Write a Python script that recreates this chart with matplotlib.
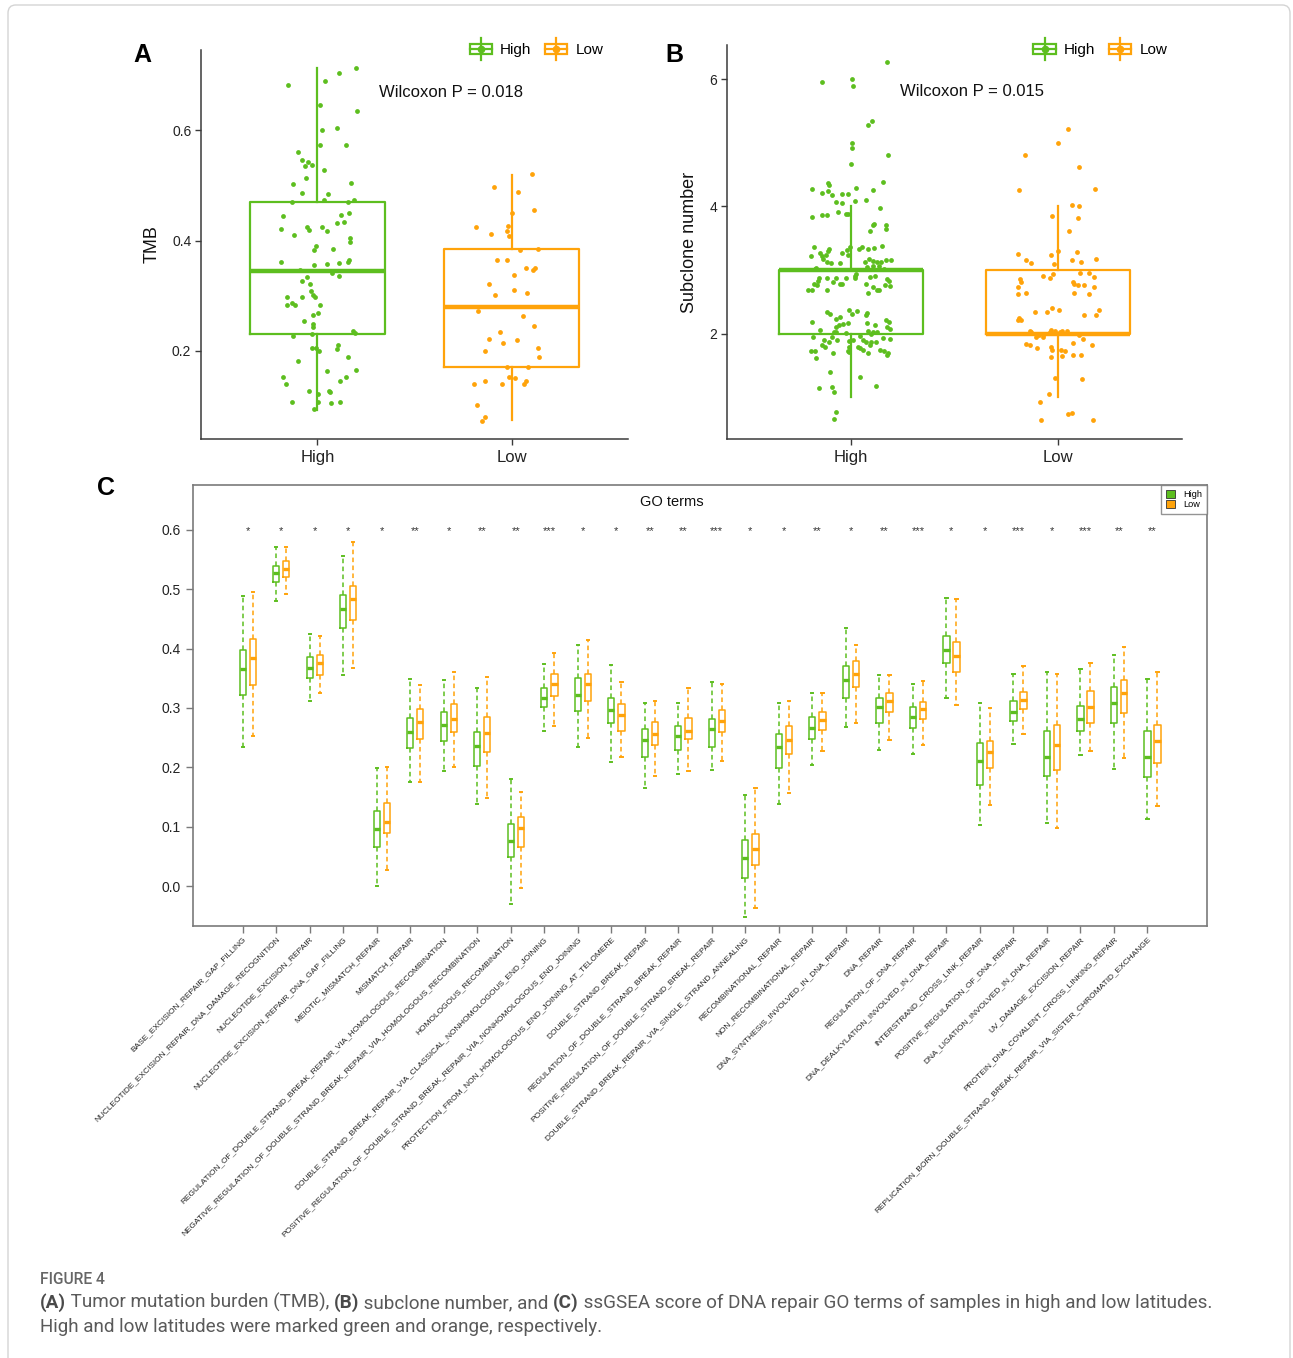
import matplotlib
matplotlib.use('Agg')
import matplotlib.pyplot as plt
from matplotlib.patches import Rectangle, Patch, FancyBboxPatch
from matplotlib.lines import Line2D
from matplotlib.legend_handler import HandlerBase

plt.rcParams['font.family'] = ['Liberation Sans', 'DejaVu Sans']

W, H = 1293, 1358
GREEN = '#5DBE1F'
ORANGE = '#FFA30A'
AXC = '#3a3a3a'

groups = ['High', 'Low']

# ---------------- Panel A: TMB ----------------
tmb_high_stats = [0.093, 0.230, 0.345, 0.470, 0.714]   # whislo, q1, med, q3, whishi
tmb_low_stats = [0.075, 0.170, 0.280, 0.385, 0.520]
tmb_p = 'Wilcoxon P = 0.018'

tmb_high_dx = [-0.154, 0.040, 0.112, 0.199, 0.014, 0.203, 0.022, 0.099, 0.014, 0.145,
               -0.098, -0.078, -0.051, -0.029, -0.063, 0.036, -0.060, -0.125, 0.175, -0.081,
               0.056, -0.132, 0.033, 0.156, 0.190, -0.177, 0.123, 0.161, -0.186, -0.052,
               -0.043, 0.024, 0.047, 0.099, 0.139, -0.121, -0.005, -0.018, 0.080, 0.168,
               0.166, -0.188, -0.020, 0.051, 0.112, 0.163, 0.156, -0.089, 0.074, 0.112,
               -0.056, -0.080, -0.036, -0.031, -0.022, -0.013, -0.159, -0.080, -0.159, -0.132,
               -0.118, 0.013, 0.005, -0.024, -0.067, -0.022, -0.022, 0.181, 0.195, -0.127,
               -0.029, -0.027, -0.005, 0.007, 0.108, 0.101, 0.157, -0.098, 0.051, 0.197,
               -0.179, -0.163, 0.114, 0.148, -0.042, 0.058, 0.063, 0.005, -0.130, 0.004,
               0.072, 0.118, -0.020]
tmb_high_y = [0.683, 0.690, 0.705, 0.714, 0.647, 0.636, 0.600, 0.604, 0.574, 0.574,
              0.561, 0.547, 0.543, 0.538, 0.535, 0.529, 0.513, 0.503, 0.504, 0.486,
              0.485, 0.471, 0.474, 0.471, 0.474, 0.444, 0.447, 0.450, 0.421, 0.425,
              0.419, 0.425, 0.418, 0.432, 0.433, 0.411, 0.391, 0.383, 0.384, 0.405,
              0.398, 0.362, 0.355, 0.358, 0.359, 0.365, 0.361, 0.347, 0.342, 0.335,
              0.334, 0.327, 0.322, 0.308, 0.302, 0.297, 0.297, 0.297, 0.284, 0.287,
              0.283, 0.284, 0.269, 0.265, 0.254, 0.249, 0.244, 0.236, 0.232, 0.227,
              0.230, 0.205, 0.205, 0.199, 0.211, 0.204, 0.188, 0.182, 0.163, 0.165,
              0.152, 0.139, 0.146, 0.152, 0.127, 0.128, 0.126, 0.121, 0.108, 0.107,
              0.106, 0.107, 0.094]
tmb_low_dx = [0.107, -0.092, 0.031, 0.004, 0.114, -0.181, -0.105, -0.018, -0.025, -0.013,
              0.043, 0.137, -0.074, -0.024, 0.074, 0.121, 0.108, 0.013, -0.116, -0.083,
              0.013, 0.078, -0.175, 0.058, 0.118, -0.058, -0.114, -0.043, 0.027, -0.139,
              0.136, 0.143, -0.022, 0.083, -0.011, 0.020, -0.195, -0.139, -0.047, 0.065,
              0.072, -0.179, -0.136, -0.150]
tmb_low_y = [0.521, 0.497, 0.488, 0.450, 0.456, 0.425, 0.412, 0.427, 0.418, 0.409,
             0.383, 0.384, 0.365, 0.365, 0.351, 0.350, 0.346, 0.338, 0.322, 0.301,
             0.310, 0.305, 0.273, 0.264, 0.245, 0.235, 0.221, 0.214, 0.220, 0.199,
             0.205, 0.188, 0.170, 0.170, 0.152, 0.151, 0.139, 0.145, 0.140, 0.139,
             0.145, 0.101, 0.080, 0.072]

# ---------------- Panel B: Subclone number ----------------
sub_high_stats = [1.0, 2.0, 3.0, 3.0, 4.0]
sub_low_stats = [1.0, 2.0, 2.0, 3.0, 4.0]
sub_p = 'Wilcoxon P = 0.015'

sub_high_dx = [-0.141, 0.002, 0.008, 0.173, 0.080, 0.103, 0.002, 0.002, 0.000, 0.178,
               0.156, -0.191, -0.113, -0.108, -0.141, -0.113, 0.022, 0.108, -0.042, -0.013,
               -0.091, -0.073, -0.043, 0.017, 0.070, -0.191, -0.141, -0.116, -0.061, -0.025,
               -0.013, 0.140, 0.108, 0.113, 0.169, 0.169, 0.090, -0.179, -0.196, -0.148,
               -0.136, -0.123, -0.111, -0.106, -0.143, -0.171, -0.116, -0.096, -0.055, -0.042,
               -0.022, -0.003, -0.013, 0.037, 0.053, 0.083, 0.113, 0.150, 0.088, 0.105,
               0.125, 0.145, 0.169, 0.191, 0.108, 0.136, 0.158, -0.154, -0.161, -0.166,
               -0.206, -0.189, -0.179, -0.118, -0.073, -0.042, -0.025, 0.017, 0.018, 0.025,
               0.070, 0.080, 0.091, 0.118, 0.106, 0.123, 0.135, 0.163, 0.186, 0.174,
               0.183, -0.118, -0.086, -0.055, -0.174, 0.066, 0.075, -0.116, -0.103, -0.189,
               -0.073, -0.053, -0.038, -0.058, -0.075, -0.015, 0.003, -0.008, 0.028, 0.070,
               0.076, 0.075, 0.118, 0.171, 0.183, 0.186, 0.176, -0.151, -0.083, -0.071,
               -0.025, 0.083, 0.095, 0.108, 0.125, -0.183, -0.133, -0.108, -0.091, -0.066,
               -0.012, 0.008, 0.042, 0.058, 0.071, 0.095, 0.121, 0.153, 0.189, -0.194,
               -0.173, -0.143, -0.126, -0.088, -0.013, -0.008, 0.035, 0.043, 0.058, 0.081,
               0.141, 0.159, 0.173, 0.178, -0.168, -0.008, 0.091, -0.101, 0.042, 0.121,
               -0.153, -0.091, -0.083, -0.073, -0.085]
sub_high_y = [5.95, 6.00, 5.89, 6.27, 5.28, 5.34, 5.00, 4.92, 4.66, 4.81,
              4.39, 4.28, 4.36, 4.33, 4.21, 4.24, 4.29, 4.26, 4.19, 4.19,
              4.18, 4.07, 4.05, 4.09, 4.10, 3.84, 3.86, 3.86, 3.91, 3.88,
              3.88, 3.98, 3.71, 3.73, 3.71, 3.65, 3.62, 3.36, 3.22, 3.27,
              3.17, 3.23, 3.30, 3.33, 3.22, 3.03, 3.12, 3.11, 3.11, 3.26,
              3.31, 3.36, 3.23, 3.33, 3.36, 3.33, 3.35, 3.37, 3.17, 3.14,
              3.12, 3.12, 3.16, 3.16, 3.07, 3.07, 3.02, 2.87, 2.83, 2.77,
              2.68, 2.69, 2.78, 2.88, 2.88, 2.78, 2.87, 2.91, 2.87, 2.93,
              2.78, 2.64, 2.89, 2.90, 2.73, 2.69, 2.69, 2.76, 2.75, 2.86,
              2.83, 2.68, 2.81, 2.78, 3.02, 3.12, 3.04, 2.34, 2.31, 2.18,
              2.23, 2.26, 2.16, 2.14, 2.10, 2.17, 2.31, 2.37, 2.35, 2.30,
              2.32, 2.17, 2.14, 2.21, 2.18, 2.08, 2.10, 2.06, 2.03, 2.02,
              2.01, 2.04, 2.00, 2.03, 2.03, 1.95, 1.90, 1.87, 1.95, 1.90,
              1.89, 1.90, 1.97, 1.90, 1.87, 1.87, 1.87, 1.93, 1.92, 1.73,
              1.73, 1.83, 1.79, 1.69, 1.73, 1.79, 1.79, 1.77, 1.74, 1.70,
              1.74, 1.73, 1.66, 1.69, 1.62, 1.71, 1.82, 1.40, 1.32, 1.18,
              1.14, 1.17, 1.09, 0.77, 0.66]
sub_low_dx = [0.050, 0.000, -0.159, 0.103, -0.188, 0.179, 0.066, 0.100, -0.028, 0.096,
              0.055, -0.193, -0.156, -0.131, -0.033, 0.000, 0.093, 0.066, 0.111, 0.186,
              -0.020, -0.183, -0.178, -0.194, -0.156, -0.191, -0.071, -0.037, -0.023, 0.075,
              0.080, 0.098, 0.125, 0.176, 0.176, 0.080, 0.151, 0.150, 0.105, -0.188,
              -0.178, -0.191, -0.111, -0.051, -0.028, 0.005, 0.128, 0.184, 0.199, -0.133,
              -0.128, -0.090, -0.065, -0.033, -0.012, 0.008, 0.022, 0.045, -0.095, -0.108,
              -0.073, -0.040, 0.101, -0.153, -0.136, -0.100, -0.033, -0.028, 0.015, 0.033,
              0.075, 0.121, 0.166, -0.032, 0.022, 0.071, 0.113, -0.012, 0.116, -0.043,
              -0.088, 0.048, 0.070, -0.081, 0.168]
sub_low_y = [5.22, 5.00, 4.81, 4.62, 4.25, 4.28, 4.02, 4.00, 3.85, 3.81,
             3.61, 3.25, 3.16, 3.11, 3.23, 3.30, 3.29, 3.15, 3.13, 3.17,
             3.10, 2.86, 2.82, 2.74, 2.64, 2.62, 2.90, 2.88, 2.93, 2.81,
             2.78, 2.76, 2.76, 2.89, 2.73, 2.64, 2.62, 2.96, 2.96, 2.25,
             2.22, 2.22, 2.34, 2.34, 2.40, 2.37, 2.30, 2.30, 2.38, 2.05,
             2.03, 1.98, 2.00, 2.06, 2.05, 2.02, 2.05, 2.04, 2.00, 1.95,
             1.95, 2.02, 1.98, 1.84, 1.82, 1.77, 1.79, 1.74, 1.74, 1.73,
             1.86, 1.91, 1.83, 1.64, 1.65, 1.66, 1.67, 1.31, 1.29, 1.05,
             0.93, 0.74, 0.76, 0.65, 0.65]

# ---------------- Panel C: ssGSEA GO terms ----------------
go_terms = [
    'BASE_EXCISION_REPAIR_GAP_FILLING',
    'NUCLEOTIDE_EXCISION_REPAIR_DNA_DAMAGE_RECOGNITION',
    'NUCLEOTIDE_EXCISION_REPAIR',
    'NUCLEOTIDE_EXCISION_REPAIR_DNA_GAP_FILLING',
    'MEIOTIC_MISMATCH_REPAIR',
    'MISMATCH_REPAIR',
    'REGULATION_OF_DOUBLE_STRAND_BREAK_REPAIR_VIA_HOMOLOGOUS_RECOMBINATION',
    'NEGATIVE_REGULATION_OF_DOUBLE_STRAND_BREAK_REPAIR_VIA_HOMOLOGOUS_RECOMBINATION',
    'HOMOLOGOUS_RECOMBINATION',
    'DOUBLE_STRAND_BREAK_REPAIR_VIA_CLASSICAL_NONHOMOLOGOUS_END_JOINING',
    'POSITIVE_REGULATION_OF_DOUBLE_STRAND_BREAK_REPAIR_VIA_NONHOMOLOGOUS_END_JOINING',
    'PROTECTION_FROM_NON_HOMOLOGOUS_END_JOINING_AT_TELOMERE',
    'DOUBLE_STRAND_BREAK_REPAIR',
    'REGULATION_OF_DOUBLE_STRAND_BREAK_REPAIR',
    'POSITIVE_REGULATION_OF_DOUBLE_STRAND_BREAK_REPAIR',
    'DOUBLE_STRAND_BREAK_REPAIR_VIA_SINGLE_STRAND_ANNEALING',
    'RECOMBINATIONAL_REPAIR',
    'NON_RECOMBINATIONAL_REPAIR',
    'DNA_SYNTHESIS_INVOLVED_IN_DNA_REPAIR',
    'DNA_REPAIR',
    'REGULATION_OF_DNA_REPAIR',
    'DNA_DEALKYLATION_INVOLVED_IN_DNA_REPAIR',
    'INTERSTRAND_CROSS_LINK_REPAIR',
    'POSITIVE_REGULATION_OF_DNA_REPAIR',
    'DNA_LIGATION_INVOLVED_IN_DNA_REPAIR',
    'UV_DAMAGE_EXCISION_REPAIR',
    'PROTEIN_DNA_COVALENT_CROSS_LINKING_REPAIR',
    'REPLICATION_BORN_DOUBLE_STRAND_BREAK_REPAIR_VIA_SISTER_CHROMATID_EXCHANGE',
]
go_high_whislo = [0.234, 0.481, 0.312, 0.356, 0.000, 0.176, 0.194, 0.139, -0.031, 0.261,
                  0.234, 0.209, 0.166, 0.189, 0.196, -0.053, 0.138, 0.204, 0.268, 0.230,
                  0.223, 0.316, 0.102, 0.240, 0.107, 0.221, 0.198, 0.113]
go_high_q1 = [0.322, 0.513, 0.350, 0.434, 0.065, 0.233, 0.244, 0.203, 0.049, 0.301,
              0.295, 0.274, 0.217, 0.229, 0.235, 0.013, 0.199, 0.248, 0.317, 0.274,
              0.266, 0.375, 0.170, 0.278, 0.185, 0.261, 0.275, 0.183]
go_high_med = [0.365, 0.528, 0.368, 0.467, 0.096, 0.260, 0.272, 0.236, 0.076, 0.316,
               0.322, 0.296, 0.246, 0.253, 0.264, 0.048, 0.235, 0.267, 0.348, 0.302,
               0.285, 0.398, 0.211, 0.294, 0.218, 0.282, 0.309, 0.218]
go_high_q3 = [0.398, 0.540, 0.386, 0.490, 0.126, 0.283, 0.294, 0.260, 0.104, 0.333,
              0.351, 0.317, 0.264, 0.269, 0.282, 0.078, 0.257, 0.285, 0.370, 0.316,
              0.301, 0.421, 0.241, 0.311, 0.262, 0.303, 0.336, 0.261]
go_high_whishi = [0.489, 0.572, 0.424, 0.556, 0.199, 0.349, 0.348, 0.333, 0.180, 0.374,
                  0.407, 0.372, 0.308, 0.308, 0.344, 0.153, 0.308, 0.325, 0.434, 0.356,
                  0.341, 0.485, 0.308, 0.357, 0.361, 0.366, 0.389, 0.349]
go_low_whislo = [0.252, 0.492, 0.325, 0.367, 0.027, 0.175, 0.201, 0.148, -0.004, 0.269,
                 0.250, 0.217, 0.185, 0.193, 0.210, -0.037, 0.157, 0.228, 0.274, 0.246,
                 0.238, 0.305, 0.137, 0.257, 0.098, 0.228, 0.216, 0.135]
go_low_q1 = [0.339, 0.520, 0.355, 0.449, 0.090, 0.247, 0.260, 0.226, 0.065, 0.321,
             0.311, 0.262, 0.238, 0.247, 0.260, 0.035, 0.222, 0.263, 0.335, 0.294,
             0.281, 0.360, 0.199, 0.298, 0.196, 0.275, 0.291, 0.207]
go_low_med = [0.384, 0.534, 0.375, 0.483, 0.108, 0.277, 0.282, 0.258, 0.098, 0.341,
              0.340, 0.288, 0.257, 0.261, 0.278, 0.063, 0.246, 0.280, 0.358, 0.311,
              0.298, 0.388, 0.226, 0.313, 0.237, 0.302, 0.325, 0.244]
go_low_q3 = [0.416, 0.548, 0.389, 0.506, 0.140, 0.298, 0.307, 0.284, 0.116, 0.357,
             0.357, 0.307, 0.277, 0.283, 0.296, 0.088, 0.269, 0.293, 0.379, 0.326,
             0.310, 0.411, 0.244, 0.327, 0.271, 0.328, 0.348, 0.271]
go_low_whishi = [0.496, 0.572, 0.421, 0.580, 0.201, 0.339, 0.361, 0.353, 0.158, 0.392,
                 0.414, 0.344, 0.312, 0.334, 0.340, 0.166, 0.311, 0.326, 0.406, 0.356,
                 0.346, 0.483, 0.300, 0.371, 0.357, 0.375, 0.403, 0.360]
go_stars = ['*', '*', '*', '*', '*', '**', '*', '**', '**', '***', '*', '*', '**', '**',
            '***', '*', '*', '**', '*', '**', '***', '*', '*', '***', '*', '***', '**', '**']

caption_title = 'FIGURE 4'
caption_line1 = [('(A)', 'bold'), (' Tumor mutation burden (TMB), ', 'normal'), ('(B)', 'bold'),
                 (' subclone number, and ', 'normal'), ('(C)', 'bold'),
                 (' ssGSEA score of DNA repair GO terms of samples in high and low latitudes.', 'normal')]
caption_line2 = [('High and low latitudes were marked green and orange, respectively.', 'normal')]


def stats_dict(s):
    return dict(whislo=s[0], q1=s[1], med=s[2], q3=s[3], whishi=s[4], fliers=[])


class BoxHandler(HandlerBase):
    def create_artists(self, legend, orig_handle, xdescent, ydescent, width, height, fontsize, trans):
        c = orig_handle.get_edgecolor()
        x0, y0 = -xdescent, -ydescent
        rect = Rectangle((x0, y0 + height * 0.1), width, height * 0.8, fill=False,
                         edgecolor=c, lw=1.6, transform=trans)
        vl = Line2D([x0 + width / 2] * 2, [y0 - height * 0.35, y0 + height * 1.35],
                    color=c, lw=1.6, transform=trans)
        hl = Line2D([x0, x0 + width], [y0 + height / 2] * 2, color=c, lw=1.6, transform=trans)
        dot = Line2D([x0 + width / 2], [y0 + height / 2], marker='o', ms=4.5, color=c,
                     lw=0, transform=trans)
        return [rect, vl, hl, dot]


def panel_box(ax, high_stats, low_stats, hdx, hy, ldx, ly, ylabel, ptext, ylim, yticks, yticklabels,
              ptext_xy, leg_anchor):
    cols = [GREEN, ORANGE]
    for i, (st, c) in enumerate(zip([high_stats, low_stats], cols)):
        ax.bxp([stats_dict(st)], positions=[i + 1], widths=0.7, showfliers=False, showcaps=False,
               boxprops=dict(color=c, lw=1.6), whiskerprops=dict(color=c, lw=1.6),
               medianprops=dict(color=c, lw=3.2), manage_ticks=False)
    ax.scatter([1 + d for d in hdx], hy, s=12, color=GREEN, zorder=5, linewidths=0)
    ax.scatter([2 + d for d in ldx], ly, s=12, color=ORANGE, zorder=5, linewidths=0)
    ax.set_xlim(0.4, 2.6)
    ax.set_ylim(*ylim)
    ax.set_xticks([1, 2])
    ax.set_xticklabels(groups, fontsize=12, color='#222222')
    ax.set_yticks(yticks)
    ax.set_yticklabels(yticklabels, fontsize=10, color='#222222')
    ax.set_ylabel(ylabel, fontsize=13, color='#111111', labelpad=8)
    for s in ['top', 'right']:
        ax.spines[s].set_visible(False)
    for s in ['left', 'bottom']:
        ax.spines[s].set_color(AXC)
        ax.spines[s].set_linewidth(1.1)
    ax.tick_params(axis='both', colors=AXC, length=4, width=1.0)
    ax.tick_params(axis='x', labelcolor='#222222', pad=4)
    ax.tick_params(axis='y', labelcolor='#222222', pad=3)
    ax.text(ptext_xy[0], ptext_xy[1], ptext, transform=ax.transAxes, ha='center', va='center',
            fontsize=12, color='#111111')
    handles = [Patch(edgecolor=GREEN, facecolor='none', label='High'),
               Patch(edgecolor=ORANGE, facecolor='none', label='Low')]
    ax.legend(handles=handles, handler_map={Patch: BoxHandler()}, ncol=2, frameon=False,
              loc='center', bbox_to_anchor=leg_anchor, fontsize=11, handlelength=1.45,
              handleheight=0.9, handletextpad=0.55, columnspacing=0.9, borderpad=0)


fig = plt.figure(figsize=(W / 100, H / 100), dpi=100)
fig.patch.set_facecolor('white')

# page border
fig.add_artist(FancyBboxPatch((8 / W, -0.02), (1290 - 8) / W, 1 - 5 / H + 0.02,
                              boxstyle='round,pad=0,rounding_size=0.006', transform=fig.transFigure,
                              facecolor='none', edgecolor='#d4d4d4', lw=1.0))

axA = fig.add_axes([201 / W, 1 - 439 / H, (628 - 201) / W, (439 - 50) / H])
panel_box(axA, tmb_high_stats, tmb_low_stats, tmb_high_dx, tmb_high_y, tmb_low_dx, tmb_low_y,
          'TMB', tmb_p, (0.040, 0.746), [0.2, 0.4, 0.6], ['0.2', '0.4', '0.6'],
          (0.585, 0.892), (0.786, 1.0))

axB = fig.add_axes([727 / W, 1 - 439 / H, (1182 - 727) / W, (439 - 45) / H])
panel_box(axB, sub_high_stats, sub_low_stats, sub_high_dx, sub_high_y, sub_low_dx, sub_low_y,
          'Subclone number', sub_p, (0.346, 6.535), [2, 4, 6], ['2', '4', '6'],
          (0.539, 0.881), (0.821, 0.987))

fig.text(142 / W, 1 - 55 / H, 'A', fontsize=18, fontweight='bold', ha='center', va='center')
fig.text(674 / W, 1 - 55 / H, 'B', fontsize=18, fontweight='bold', ha='center', va='center')
fig.text(106 / W, 1 - 488 / H, 'C', fontsize=18, fontweight='bold', ha='center', va='center')

# Panel C
axC = fig.add_axes([193 / W, 1 - 926 / H, (1207 - 193) / W, (926 - 485) / H])
n = len(go_terms)
pos = list(range(1, n + 1))
high_stats = [dict(whislo=a, q1=b, med=c, q3=d, whishi=e, fliers=[])
              for a, b, c, d, e in zip(go_high_whislo, go_high_q1, go_high_med, go_high_q3, go_high_whishi)]
low_stats = [dict(whislo=a, q1=b, med=c, q3=d, whishi=e, fliers=[])
             for a, b, c, d, e in zip(go_low_whislo, go_low_q1, go_low_med, go_low_q3, go_low_whishi)]
for stats, offs, c in [(high_stats, 0.0, GREEN), (low_stats, 0.3, ORANGE)]:
    axC.bxp(stats, positions=[p + offs for p in pos], widths=0.19, showfliers=False,
            capwidths=0.07, manage_ticks=False,
            boxprops=dict(color=c, lw=1.1),
            whiskerprops=dict(color=c, lw=1.1, linestyle=(0, (3.0, 2.2))),
            capprops=dict(color=c, lw=1.4),
            medianprops=dict(color=c, lw=2.4))
for p, s in zip(pos, go_stars):
    axC.text(p + 0.15, 0.598, s, ha='center', va='center', fontsize=8, color='#333333')
axC.set_xlim(-0.484, 29.78)
axC.set_ylim(-0.0674, 0.6758)
axC.set_yticks([0.0, 0.1, 0.2, 0.3, 0.4, 0.5, 0.6])
axC.set_yticklabels(['0.0', '0.1', '0.2', '0.3', '0.4', '0.5', '0.6'], fontsize=10, color='#222222')
axC.set_xticks(pos)
axC.set_xticklabels(go_terms, rotation=45, ha='right', va='top', rotation_mode='anchor',
                    fontsize=6, color='#222222')
for s in axC.spines.values():
    s.set_color('#7a7a7a')
    s.set_linewidth(1.2)
axC.tick_params(axis='both', colors='#7a7a7a', length=5, width=1.0)
axC.tick_params(axis='x', labelcolor='#222222', pad=2)
axC.tick_params(axis='y', labelcolor='#222222', pad=4)
axC.text(0.472, 0.961, 'GO terms', transform=axC.transAxes, ha='center', va='center',
         fontsize=10.5, color='#111111')
legC = axC.legend(handles=[Patch(facecolor=GREEN, edgecolor='#333333', lw=0.6, label='High'),
                           Patch(facecolor=ORANGE, edgecolor='#333333', lw=0.6, label='Low')],
                  loc='upper right', fontsize=6.6, frameon=True, fancybox=False, borderaxespad=0,
                  handlelength=0.9, handleheight=0.9, handletextpad=0.9, labelspacing=0.15,
                  borderpad=0.55)
legC.get_frame().set_edgecolor('#7a7a7a')
legC.get_frame().set_linewidth(1.0)

# Caption
renderer = fig.canvas.get_renderer()
CAPFONT = ['Roboto', 'DejaVu Sans']


def runs_width(runs, size):
    tot = 0
    for txt, wgt in runs:
        t = fig.text(0, 0, txt, fontsize=size, fontweight=wgt, family=CAPFONT)
        tot += t.get_window_extent(renderer).width
        t.remove()
    return tot


def draw_runs(runs, x_px, y_px, size, color, base_weight='normal'):
    x = x_px
    for txt, wgt in runs:
        w = base_weight if wgt == 'normal' else wgt
        t = fig.text(x / W, 1 - y_px / H, txt, fontsize=size, fontweight=w, family=CAPFONT,
                     color=('#4a4a4a' if wgt == 'bold' else color), va='baseline', ha='left')
        x += t.get_window_extent(renderer).width


cap_size = 12 * (1177 / runs_width(caption_line1, 12))
title_size = 12 * (65 / runs_width([(caption_title, 'medium')], 12))
draw_runs([(caption_title, 'normal')], 40, 1284, title_size, '#666666', base_weight='medium')
draw_runs(caption_line1, 40, 1308, cap_size, '#5a5a5a')
draw_runs(caption_line2, 40, 1332, cap_size, '#5a5a5a')

fig.savefig('out.png', dpi=100, facecolor='white')
